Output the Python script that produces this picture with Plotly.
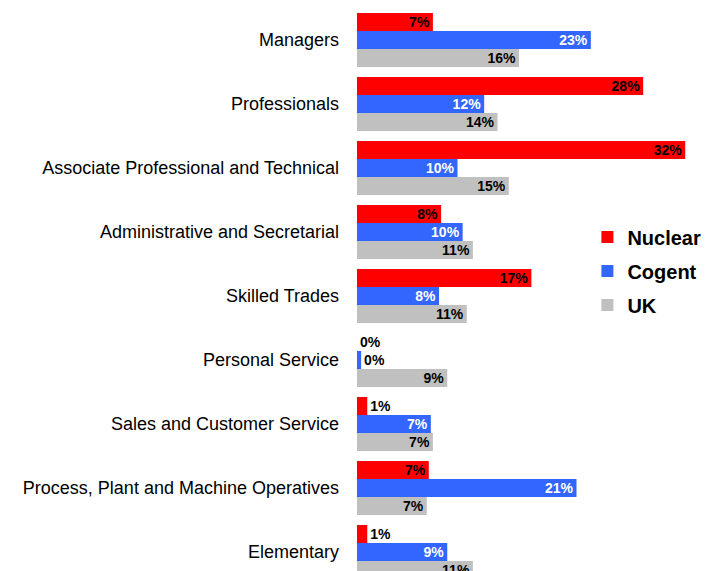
import plotly.graph_objects as go

categories = ["Managers", "Professionals", "Associate Professional and Technical",
              "Administrative and Secretarial", "Skilled Trades", "Personal Service",
              "Sales and Customer Service", "Process, Plant and Machine Operatives",
              "Elementary"]
nuclear = [7.4, 27.9, 32.0, 8.2, 17.0, 0.001, 1.0, 7.0, 1.0]
cogent = [22.8, 12.4, 9.8, 10.3, 8.0, 0.4, 7.2, 21.4, 8.8]
uk = [15.8, 13.7, 14.8, 11.3, 10.7, 8.8, 7.4, 6.8, 11.3]

series = [("Nuclear", nuclear, "#FF0000", "black"),
          ("Cogent", cogent, "#3366FF", "white"),
          ("UK", uk, "#C0C0C0", "black")]

fig = go.Figure()
for name, vals, col, txtcol in series:
    # near-zero bars keep their label but no visible sliver
    colors = [col if v >= 0.1 else "rgba(0,0,0,0)" for v in vals]
    fig.add_trace(go.Bar(
        y=categories, x=vals, name=name, orientation="h",
        marker=dict(color=colors, line=dict(width=0)),
        texttemplate="%{x:.0f}%", textposition="auto",
        insidetextanchor="end", constraintext="none",
        insidetextfont=dict(color=txtcol, size=14, family="Liberation Sans", weight="bold"),
        outsidetextfont=dict(color="black", size=14, family="Liberation Sans", weight="bold"),
        legendgroup=name, cliponaxis=False,
    ))

# page has an 8px offset at left/top, so the figure is 709x563
fig.update_layout(
    width=709, height=563,
    barmode="group", bargap=0.156, bargroupgap=0,
    plot_bgcolor="white", paper_bgcolor="white",
    margin=dict(l=349, r=0, t=0, b=0),
    font=dict(family="Liberation Sans", color="black"),
    showlegend=True,
    legend=dict(x=0.64, y=0.628, xanchor="left", yanchor="top",
                traceorder="grouped", tracegroupgap=5,
                font=dict(size=20, weight="bold", family="Liberation Sans")),
)
fig.update_xaxes(range=[0, 35.1], visible=False)
fig.update_yaxes(range=[8.297, -0.5], showline=False, showgrid=False, ticks="",
                 tickfont=dict(size=18, color="black"), ticklabelstandoff=17)

fig.write_html("out.html")
